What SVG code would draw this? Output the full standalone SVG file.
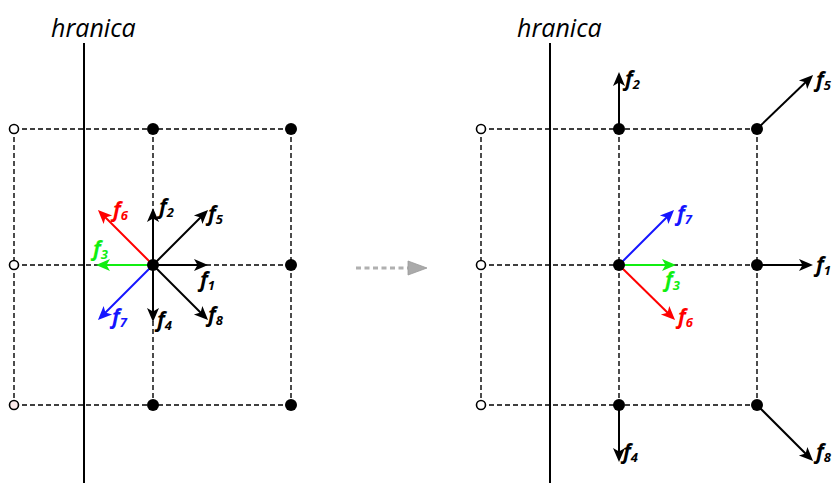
<svg xmlns="http://www.w3.org/2000/svg" width="833" height="483" viewBox="0 0 833 483">
<style>
.grid{stroke:#000;stroke-width:1.4;stroke-dasharray:5 3;fill:none}
.bnd{stroke:#000;stroke-width:2;fill:none}
.ttl{font-family:"Open Sans","Liberation Sans",sans-serif;font-style:italic;font-size:25px;fill:#000}
.lab{font-family:"Open Sans","Liberation Sans",sans-serif;font-style:italic;font-weight:700;font-size:21px}
.sub{font-size:13px}
.ak{stroke:#000;stroke-width:2;fill:none;marker-end:url(#mk)}
.ar{stroke:#f00;stroke-width:2;fill:none;marker-end:url(#mr)}
.ag{stroke:#11ee11;stroke-width:2;fill:none;marker-end:url(#mg)}
.ab{stroke:#1515ff;stroke-width:2;fill:none;marker-end:url(#mb)}
.open{fill:#fff;stroke:#000;stroke-width:1.6}
.full{fill:#000}
</style>
<defs>
<marker id="mk" markerUnits="userSpaceOnUse" markerWidth="16" markerHeight="14" refX="9" refY="6" orient="auto" overflow="visible"><path d="M0,0 L14,6 L0,12 L3.5,6 Z" fill="#000"/></marker>
<marker id="mr" markerUnits="userSpaceOnUse" markerWidth="16" markerHeight="14" refX="9" refY="6" orient="auto" overflow="visible"><path d="M0,0 L14,6 L0,12 L3.5,6 Z" fill="#f00"/></marker>
<marker id="mg" markerUnits="userSpaceOnUse" markerWidth="16" markerHeight="14" refX="9" refY="6" orient="auto" overflow="visible"><path d="M0,0 L14,6 L0,12 L3.5,6 Z" fill="#11ee11"/></marker>
<marker id="mb" markerUnits="userSpaceOnUse" markerWidth="16" markerHeight="14" refX="9" refY="6" orient="auto" overflow="visible"><path d="M0,0 L14,6 L0,12 L3.5,6 Z" fill="#1515ff"/></marker>
</defs>

<g id="connectors">
  <g id="grid-left" class="grid">
    <line x1="14" y1="129" x2="291" y2="129"/>
    <line x1="14" y1="265" x2="291" y2="265"/>
    <line x1="14" y1="405" x2="291" y2="405"/>
    <line x1="14" y1="129" x2="14" y2="405"/>
    <line x1="153" y1="129" x2="153" y2="405"/>
    <line x1="291" y1="129" x2="291" y2="405"/>
  </g>
  <g id="grid-right" class="grid">
    <line x1="481" y1="129" x2="757" y2="129"/>
    <line x1="481" y1="265" x2="757" y2="265"/>
    <line x1="481" y1="405" x2="757" y2="405"/>
    <line x1="481" y1="129" x2="481" y2="405"/>
    <line x1="619" y1="129" x2="619" y2="405"/>
    <line x1="757" y1="129" x2="757" y2="405"/>
  </g>
  <line class="bnd" x1="84" y1="43" x2="84" y2="483"/>
  <line class="bnd" x1="550" y1="43" x2="550" y2="483"/>

  <g id="vectors-left">
    <line class="ak" x1="153" y1="265" x2="203" y2="265"/>
    <line class="ak" x1="153" y1="265" x2="153" y2="213"/>
    <line class="ag" x1="153" y1="265" x2="101" y2="265"/>
    <line class="ak" x1="153" y1="265" x2="153" y2="317"/>
    <line class="ak" x1="153" y1="265" x2="204.5" y2="213.5"/>
    <line class="ar" x1="153" y1="265" x2="101.5" y2="213.5"/>
    <line class="ab" x1="153" y1="265" x2="101.5" y2="316.5"/>
    <line class="ak" x1="153" y1="265" x2="204.5" y2="316.5"/>
  </g>
  <g id="vectors-right">
    <line class="ab" x1="619" y1="265" x2="670.5" y2="213.5"/>
    <line class="ag" x1="619" y1="265" x2="671" y2="265"/>
    <line class="ar" x1="619" y1="265" x2="671.5" y2="316.5"/>
    <line class="ak" x1="757" y1="265" x2="808" y2="265"/>
    <line class="ak" x1="619" y1="129" x2="619" y2="77"/>
    <line class="ak" x1="757" y1="129" x2="809.5" y2="78.5"/>
    <line class="ak" x1="619" y1="405" x2="619" y2="457"/>
    <line class="ak" x1="757" y1="405" x2="809.5" y2="457.5"/>
  </g>
  <g id="transition">
    <line x1="356" y1="268" x2="409" y2="268" stroke="#b0b0b0" stroke-width="3" stroke-dasharray="5 3.5"/>
    <path d="M408,261 L427,268 L408,275 Z" fill="#aaa" stroke="#999" stroke-width="0.8"/>
  </g>
</g>

<text class="ttl" x="51" y="37">hranica</text>
<text class="ttl" x="517" y="37">hranica</text>

<g id="nL00"><circle class="open" cx="14" cy="129" r="4.5"/></g>
<g id="nL01"><circle class="open" cx="14" cy="265" r="4.5"/></g>
<g id="nL02"><circle class="open" cx="14" cy="405" r="4.5" style="fill:#fbeaea"/></g>
<g id="nL10"><circle class="full" cx="153" cy="129" r="6"/></g>
<g id="nL11"><circle class="full" cx="153" cy="265" r="6"/></g>
<g id="nL12"><circle class="full" cx="153" cy="405" r="6"/></g>
<g id="nL20"><circle class="full" cx="291" cy="129" r="6"/></g>
<g id="nL21"><circle class="full" cx="291" cy="265" r="6"/></g>
<g id="nL22"><circle class="full" cx="291" cy="405" r="6"/></g>
<g id="nR00"><circle class="open" cx="481" cy="129" r="4.5"/></g>
<g id="nR01"><circle class="open" cx="481" cy="265" r="4.5"/></g>
<g id="nR02"><circle class="open" cx="481" cy="405" r="4.5"/></g>
<g id="nR10"><circle class="full" cx="619" cy="129" r="6"/></g>
<g id="nR11"><circle class="full" cx="619" cy="265" r="6"/></g>
<g id="nR12"><circle class="full" cx="619" cy="405" r="6"/></g>
<g id="nR20"><circle class="full" cx="757" cy="129" r="6"/></g>
<g id="nR21"><circle class="full" cx="757" cy="265" r="6"/></g>
<g id="nR22"><circle class="full" cx="757" cy="405" r="6"/></g>

<g id="labels-left" class="lab">
  <text x="200" y="287" fill="#000">f<tspan class="sub" dy="3">1</tspan></text>
  <text x="159" y="214" fill="#000">f<tspan class="sub" dy="3">2</tspan></text>
  <text x="93" y="256" fill="#11ee11">f<tspan class="sub" dy="3">3</tspan></text>
  <text x="157" y="327" fill="#000">f<tspan class="sub" dy="3">4</tspan></text>
  <text x="208" y="221" fill="#000">f<tspan class="sub" dy="3">5</tspan></text>
  <text x="113" y="217" fill="#f00">f<tspan class="sub" dy="3">6</tspan></text>
  <text x="112" y="324" fill="#1515ff">f<tspan class="sub" dy="3">7</tspan></text>
  <text x="208" y="322" fill="#000">f<tspan class="sub" dy="3">8</tspan></text>
</g>
<g id="labels-right" class="lab">
  <text x="677" y="221" fill="#1515ff">f<tspan class="sub" dy="3">7</tspan></text>
  <text x="665" y="287" fill="#11ee11">f<tspan class="sub" dy="3">3</tspan></text>
  <text x="678" y="324" fill="#f00">f<tspan class="sub" dy="3">6</tspan></text>
  <text x="816" y="272" fill="#000">f<tspan class="sub" dy="3">1</tspan></text>
  <text x="625" y="86" fill="#000">f<tspan class="sub" dy="3">2</tspan></text>
  <text x="816" y="87" fill="#000">f<tspan class="sub" dy="3">5</tspan></text>
  <text x="623" y="459" fill="#000">f<tspan class="sub" dy="3">4</tspan></text>
  <text x="816" y="459" fill="#000">f<tspan class="sub" dy="3">8</tspan></text>
</g>
</svg>
